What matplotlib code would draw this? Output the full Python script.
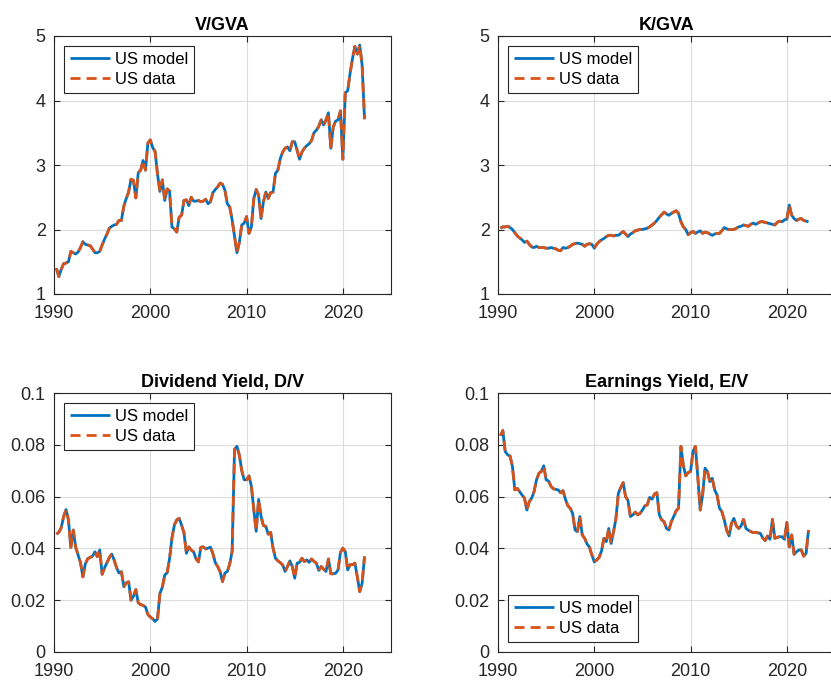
import numpy as np
import matplotlib
matplotlib.use("Agg")
import matplotlib.pyplot as plt
from matplotlib.ticker import FuncFormatter

# ---------------- data (quarterly, 1990Q2 .. 2022Q2) ----------------
start_year = 1990.25
step = 0.25

v_gva = [1.40, 1.27, 1.38,
         1.47, 1.48, 1.50, 1.66,
         1.64, 1.62, 1.65, 1.72,
         1.81, 1.77, 1.76, 1.75,
         1.70, 1.64, 1.64, 1.66,
         1.76, 1.85, 1.93, 2.02,
         2.05, 2.07, 2.08, 2.14,
         2.14, 2.36, 2.48, 2.58,
         2.78, 2.76, 2.49, 2.88,
         2.92, 3.07, 2.92, 3.34,
         3.39, 3.27, 3.21, 2.86,
         2.59, 2.77, 2.45, 2.63,
         2.60, 2.04, 2.01, 1.96,
         2.19, 2.22, 2.45, 2.46,
         2.37, 2.50, 2.44, 2.44,
         2.45, 2.43, 2.44, 2.47,
         2.40, 2.43, 2.57, 2.62,
         2.66, 2.72, 2.70, 2.61,
         2.40, 2.35, 2.15, 1.90,
         1.64, 1.80, 2.07, 2.10,
         2.20, 1.94, 2.04, 2.48,
         2.62, 2.53, 2.17, 2.43,
         2.58, 2.48, 2.57, 2.58,
         2.87, 2.92, 3.10, 3.20,
         3.26, 3.28, 3.22, 3.36,
         3.36, 3.23, 3.09, 3.20,
         3.26, 3.30, 3.33, 3.38,
         3.50, 3.54, 3.60, 3.70,
         3.62, 3.70, 3.81, 3.26,
         3.59, 3.68, 3.70, 3.84,
         3.09, 4.12, 4.15, 4.42,
         4.65, 4.84, 4.72, 4.86,
         4.55, 3.71]

k_gva = [2.02, 2.04, 2.04,
         2.05, 2.03, 2.00, 1.95,
         1.90, 1.87, 1.84, 1.80,
         1.82, 1.77, 1.73, 1.72,
         1.74, 1.72, 1.72, 1.72,
         1.71, 1.71, 1.72, 1.71,
         1.70, 1.68, 1.67, 1.72,
         1.71, 1.72, 1.74, 1.77,
         1.78, 1.79, 1.78, 1.77,
         1.74, 1.77, 1.78, 1.77,
         1.71, 1.77, 1.81, 1.84,
         1.86, 1.89, 1.91, 1.91,
         1.90, 1.91, 1.91, 1.94,
         1.97, 1.93, 1.89, 1.93,
         1.95, 1.98, 1.99, 2.00,
         2.00, 2.01, 2.02, 2.04,
         2.07, 2.10, 2.14, 2.19,
         2.23, 2.27, 2.24, 2.22,
         2.25, 2.27, 2.29, 2.25,
         2.12, 2.04, 2.00, 1.92,
         1.95, 1.97, 1.94, 1.96,
         1.98, 1.94, 1.96, 1.95,
         1.93, 1.91, 1.93, 1.94,
         1.94, 1.98, 2.03, 2.01,
         2.00, 2.00, 2.00, 2.02,
         2.04, 2.05, 2.07, 2.06,
         2.05, 2.08, 2.10, 2.08,
         2.10, 2.12, 2.12, 2.11,
         2.10, 2.09, 2.08, 2.07,
         2.11, 2.13, 2.12, 2.15,
         2.16, 2.38, 2.22, 2.17,
         2.14, 2.16, 2.17, 2.14,
         2.13, 2.12]

div_yield = [0.0455, 0.0462, 0.0480,
             0.0523, 0.0550, 0.0510, 0.0404,
             0.0471, 0.0405, 0.0375, 0.0345,
             0.0290, 0.0340, 0.0360, 0.0365,
             0.0370, 0.0387, 0.0368, 0.0394,
             0.0300, 0.0325, 0.0345, 0.0365,
             0.0378, 0.0355, 0.0325, 0.0305,
             0.0310, 0.0252, 0.0267, 0.0271,
             0.0200, 0.0215, 0.0241, 0.0190,
             0.0183, 0.0180, 0.0174, 0.0145,
             0.0135, 0.0128, 0.0118, 0.0128,
             0.0226, 0.0250, 0.0297, 0.0306,
             0.0360, 0.0440, 0.0490, 0.0510,
             0.0516, 0.0490, 0.0460, 0.0381,
             0.0406, 0.0393, 0.0387, 0.0360,
             0.0348, 0.0404, 0.0406, 0.0398,
             0.0401, 0.0405, 0.0380, 0.0345,
             0.0330, 0.0310, 0.0272, 0.0305,
             0.0311, 0.0340, 0.0388, 0.0783,
             0.0794, 0.0760, 0.0700, 0.0665,
             0.0665, 0.0680, 0.0640, 0.0550,
             0.0466, 0.0589, 0.0524, 0.0488,
             0.0485, 0.0455, 0.0462, 0.0401,
             0.0362, 0.0352, 0.0345, 0.0336,
             0.0311, 0.0330, 0.0352, 0.0330,
             0.0285, 0.0343, 0.0346, 0.0362,
             0.0349, 0.0356, 0.0346, 0.0359,
             0.0350, 0.0343, 0.0315, 0.0330,
             0.0320, 0.0311, 0.0359, 0.0302,
             0.0302, 0.0304, 0.0317, 0.0384,
             0.0401, 0.0388, 0.0317, 0.0337,
             0.0337, 0.0343, 0.0291, 0.0233,
             0.0265, 0.0369]

earn_yield = [0.0835, 0.0855, 0.0774,
              0.0761, 0.0757, 0.0716, 0.0626,
              0.0632, 0.0619, 0.0606, 0.0594,
              0.0548, 0.0581, 0.0594, 0.0620,
              0.0665, 0.0690, 0.0697, 0.0719,
              0.0665, 0.0660, 0.0640, 0.0630,
              0.0628, 0.0626, 0.0615, 0.0623,
              0.0590, 0.0565, 0.0555, 0.0535,
              0.0471, 0.0465, 0.0523, 0.0452,
              0.0439, 0.0417, 0.0405, 0.0374,
              0.0348, 0.0355, 0.0365, 0.0390,
              0.0439, 0.0426, 0.0477, 0.0419,
              0.0465, 0.0516, 0.0613, 0.0635,
              0.0654, 0.0600, 0.0585, 0.0523,
              0.0529, 0.0540, 0.0530, 0.0535,
              0.0548, 0.0564, 0.0568, 0.0597,
              0.0590, 0.0610, 0.0615, 0.0530,
              0.0510, 0.0503, 0.0477, 0.0471,
              0.0503, 0.0523, 0.0545, 0.0555,
              0.0794, 0.0720, 0.0680, 0.0693,
              0.0697, 0.0774, 0.0794, 0.0677,
              0.0548, 0.0606, 0.0710, 0.0697,
              0.0658, 0.0671, 0.0626, 0.0606,
              0.0555, 0.0542, 0.0510, 0.0470,
              0.0448, 0.0497, 0.0516, 0.0487,
              0.0477, 0.0487, 0.0512, 0.0477,
              0.0470, 0.0465, 0.0461, 0.0461,
              0.0460, 0.0458, 0.0440, 0.0430,
              0.0448, 0.0435, 0.0512, 0.0439,
              0.0443, 0.0445, 0.0445, 0.0435,
              0.0500, 0.0406, 0.0452, 0.0377,
              0.0387, 0.0394, 0.0394, 0.0370,
              0.0381, 0.0471]

titles = ["V/GVA", "K/GVA", "Dividend Yield, D/V", "Earnings Yield, E/V"]
legend_labels = ["US model", "US data"]
x_ticks = [1990, 2000, 2010, 2020]
top_yticks = [1, 2, 3, 4, 5]
bottom_yticks = [0, 0.02, 0.04, 0.06, 0.08, 0.1]

# ---------------- styling ----------------
plt.rcParams['font.family'] = ['Liberation Sans', 'DejaVu Sans']
BLUE = '#0072BD'
ORANGE = '#D95319'
AX_COL = '#262626'

W, H = 831, 686
fig = plt.figure(figsize=(W / 100, H / 100), dpi=100)
fig.patch.set_facecolor('white')

def px_axes(left, top, right, bottom):
    return fig.add_axes([left / W, 1 - bottom / H, (right - left) / W, (bottom - top) / H])

axes = [px_axes(54, 36, 391, 294), px_axes(498, 36, 835, 294),
        px_axes(54, 393, 391, 652), px_axes(498, 393, 835, 652)]

series = [v_gva, k_gva, div_yield, earn_yield]
legend_locs = ['upper left', 'upper left', 'upper left', 'lower left']

fmt = FuncFormatter(lambda v, p: ('%g' % round(v, 4)))

for i, ax in enumerate(axes):
    y = np.array(series[i])
    t = start_year + step * np.arange(len(y))
    model = y
    data = y
    ax.plot(t, model, color=BLUE, lw=2.0, solid_capstyle='butt', label=legend_labels[0], zorder=3)
    ax.plot(t, data, color=ORANGE, lw=2.0, dashes=(3.6, 2.2), label=legend_labels[1], zorder=4)
    ax.set_xlim(1990, 2025)
    ax.set_xticks(x_ticks)
    if i < 2:
        ax.set_ylim(1, 5)
        ax.set_yticks(top_yticks)
    else:
        ax.set_ylim(0, 0.1)
        ax.set_yticks(bottom_yticks)
    ax.yaxis.set_major_formatter(fmt)
    ax.grid(True, color='#dcdcdc', lw=0.8)
    ax.set_axisbelow(True)
    for s in ax.spines.values():
        s.set_color(AX_COL)
        s.set_linewidth(0.8)
    ax.tick_params(direction='in', length=4, width=0.8, colors=AX_COL,
                   labelsize=13, top=True, right=True)
    ax.tick_params(axis='x', pad=8)
    ax.tick_params(axis='y', pad=6)
    for lab in ax.get_xticklabels() + ax.get_yticklabels():
        lab.set_color(AX_COL)
    ax.set_title(titles[i], fontsize=13, fontweight='bold', color='black', pad=4)
    leg = ax.legend(loc=legend_locs[i], fontsize=12, fancybox=False, framealpha=1,
                    edgecolor=AX_COL, borderaxespad=0.6, handlelength=2.4,
                    handletextpad=0.3, borderpad=0.35, labelspacing=0.32)
    leg.get_frame().set_linewidth(0.8)

fig.savefig('out.png', dpi=100)
